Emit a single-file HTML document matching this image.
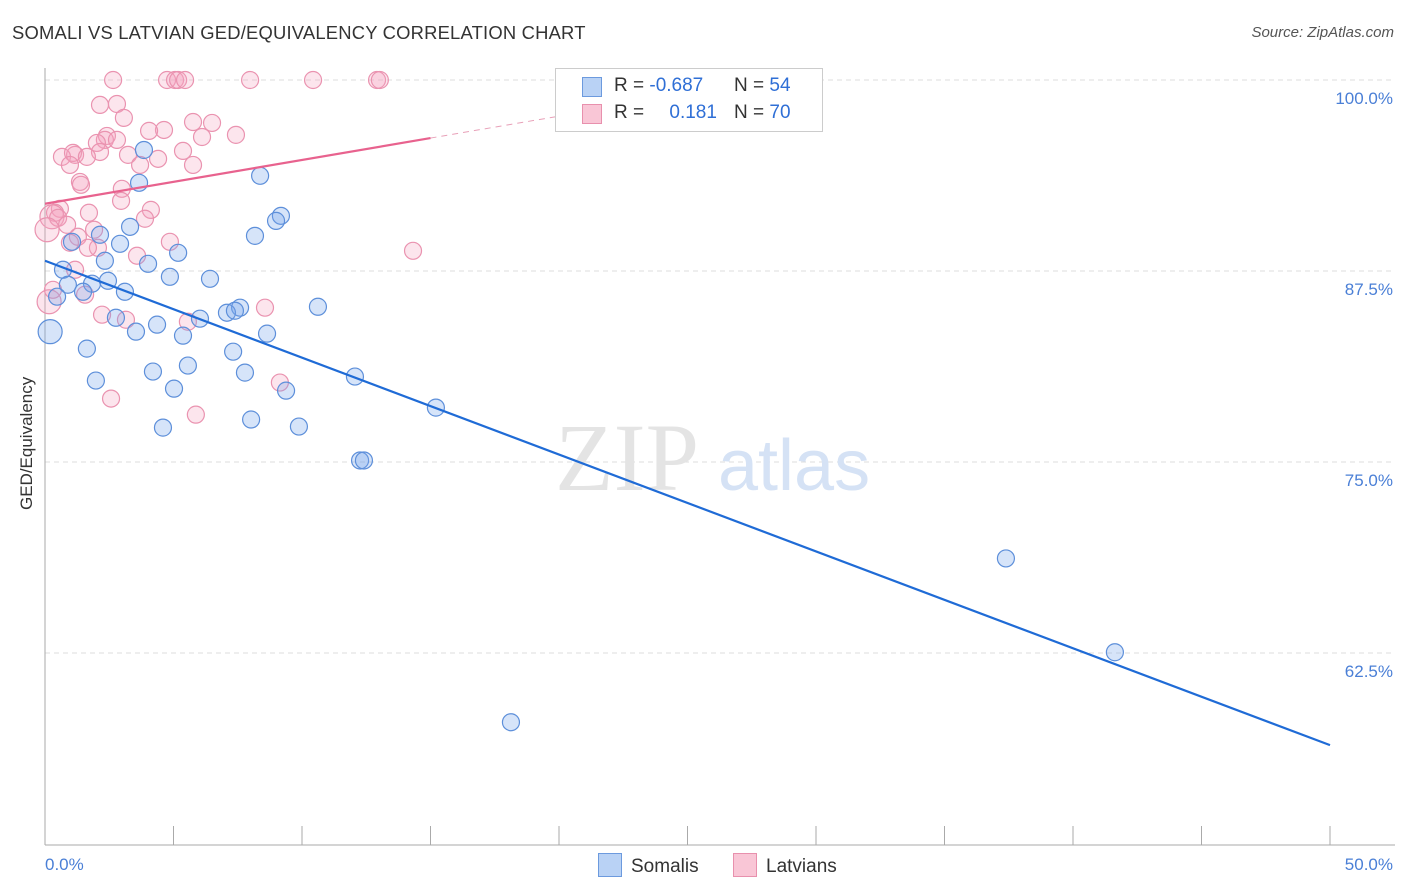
<!DOCTYPE html>
<html><head><meta charset="utf-8">
<style>
body{margin:0;background:#fff;font-family:"Liberation Sans",sans-serif;}
#wrap{position:relative;width:1406px;height:892px;overflow:hidden;}
.t{position:absolute;white-space:nowrap;}
</style></head>
<body>
<div id="wrap">
<div class="t" style="left:12px;top:22px;font-size:18.4px;color:#333;letter-spacing:0.2px">SOMALI VS LATVIAN GED/EQUIVALENCY CORRELATION CHART</div>
<div class="t" style="right:12px;top:24px;font-size:15px;color:#555;font-style:italic">Source: ZipAtlas.com</div>
<div class="t" style="left:-28px;top:445px;font-size:17px;color:#333;transform:rotate(-90deg);transform-origin:center;width:110px;text-align:center">GED/Equivalency</div>
<svg id="svg" width="1406" height="892" style="position:absolute;left:0;top:0"></svg>
</div>
<script>
const xTicks=[0,5,10,15,20,25,30,35,40,45,50];
const yTicks=[100,87.5,75,62.5];
const somaliX=[3.85,3.66,8.37,9.18,8.99,3.31,8.17,2.14,1.05,2.92,5.18,2.33,4.01,0.70,4.86,6.42,0.89,2.45,1.83,3.11,1.48,0.47,10.62,7.59,7.08,7.39,6.03,2.76,4.36,3.54,5.37,8.64,0.2,1.63,7.32,5.56,4.20,7.78,12.06,1.98,5.02,9.38,15.21,8.02,9.88,4.59,12.26,12.41,37.39,41.63,18.13];
const somaliY=[95.42,93.27,93.73,91.11,90.78,90.39,89.80,89.87,89.41,89.28,88.69,88.17,87.97,87.58,87.12,86.99,86.60,86.86,86.67,86.14,86.14,85.82,85.16,85.10,84.77,84.90,84.38,84.44,83.99,83.53,83.27,83.40,83.53,82.42,82.22,81.31,80.92,80.85,80.59,80.33,79.80,79.67,78.56,77.78,77.32,77.25,75.10,75.10,68.69,62.55,57.97];
const latvianX=[2.65,4.75,5.06,5.18,5.45,7.98,10.43,12.92,13.03,2.14,2.80,3.07,4.63,5.76,6.50,7.43,6.11,4.05,2.41,2.33,2.02,2.14,1.17,0.66,1.09,1.63,0.97,3.23,4.40,3.70,5.37,5.76,2.80,1.36,1.40,2.99,2.96,4.12,3.89,1.71,0.58,0.39,0.27,0.51,0.86,0.08,1.91,1.28,0.97,2.06,1.67,3.58,4.86,14.32,1.17,1.56,0.16,2.22,3.15,5.56,8.56,9.14,2.57,5.87,0.31];
const latvianY=[100,100,100,100,100,100,100,100,100,98.37,98.43,97.52,96.73,97.25,97.19,96.41,96.27,96.67,96.34,96.08,95.88,95.29,95.10,94.97,95.23,94.97,94.44,95.10,94.84,94.44,95.36,94.44,96.08,93.33,93.14,92.88,92.09,91.50,90.92,91.31,91.57,91.31,91.05,90.98,90.52,90.20,90.20,89.74,89.35,89.02,89.02,88.50,89.41,88.82,87.58,85.95,85.49,84.64,84.31,84.18,85.10,80.20,79.15,78.10,86.27];
const blueTrend=[[0,88.17],[50,56.47]];
const pinkTrend=[[0,91.9],[15,96.2]];
const X0=45,X1=1330,Y100=80,PXPER=15.28;
const sx=v=>X0+(v/50)*(X1-X0);
const sy=v=>Y100+(100-v)*PXPER;
const svg=document.getElementById('svg');const NS='http://www.w3.org/2000/svg';
function mk(tag,attrs){const e=document.createElementNS(NS,tag);for(const k in attrs)e.setAttribute(k,attrs[k]);svg.appendChild(e);return e;}
yTicks.forEach(v=>{const l=mk('line',{x1:X0,x2:1395,y1:sy(v),y2:sy(v),stroke:'#ddd','stroke-dasharray':'5,4'});


const t=mk('text',{x:1393,y:sy(v)+24,'text-anchor':'end','font-size':17,fill:'#4a7fd6','font-family':'Liberation Sans'});t.textContent=v.toFixed(1)+'%';

});
let a=mk('line',{x1:X0,x2:X0,y1:68,y2:845,stroke:'#aaa'});


a=mk('line',{x1:X0,x2:1395,y1:845,y2:845,stroke:'#aaa'});


xTicks.forEach(v=>{const l=mk('line',{x1:sx(v),x2:sx(v),y1:826,y2:845,stroke:'#aaa'});

});
[[0,'start',45],[50,'end',1393]].forEach(([v,anc,x])=>{const t=mk('text',{x:x,y:870,'text-anchor':anc,'font-size':17,fill:'#4a7fd6','font-family':'Liberation Sans'});t.textContent=v.toFixed(1)+'%';

});
let w=mk('text',{x:555,y:490,'font-size':96,fill:'#e4e4e4','font-family':'Liberation Serif'});w.textContent='ZIP';


w=mk('text',{x:718,y:490,'font-size':72,fill:'#d5e2f5','font-family':'Liberation Sans'});w.textContent='atlas';


function pts(xs,ys,fill,stroke,name){xs.forEach((x,i)=>{const c=mk('circle',{cx:sx(x),cy:sy(ys[i]),r:(x<0.3?12:8.5),fill:fill,stroke:stroke,'stroke-width':1.2});

});}
pts(latvianX,latvianY,'rgba(244,160,190,0.28)','#ea93b0','latvian-point');
pts(somaliX,somaliY,'rgba(120,165,235,0.3)','#5d8fda','somali-point');
let l=mk('line',{x1:sx(blueTrend[0][0]),y1:sy(blueTrend[0][1]),x2:sx(blueTrend[1][0]),y2:sy(blueTrend[1][1]),stroke:'#1f6bd6','stroke-width':2.2});


const ps=(pinkTrend[1][1]-pinkTrend[0][1])/(pinkTrend[1][0]-pinkTrend[0][0]);
l=mk('line',{x1:sx(pinkTrend[0][0]),y1:sy(pinkTrend[0][1]),x2:sx(pinkTrend[1][0]),y2:sy(pinkTrend[1][1]),stroke:'#e8628e','stroke-width':2.2});


l=mk('line',{x1:sx(15),y1:sy(pinkTrend[1][1]),x2:sx(21),y2:sy(pinkTrend[1][1]+ps*6),stroke:'#e8a0b8','stroke-width':1,'stroke-dasharray':'6,5'});


</script>
<div class="t" style="left:555px;top:68px;width:266px;height:62px;border:1px solid #ccc;background:#fff;font-size:19px;color:#333">
<div style="position:absolute;left:26px;top:8px;width:18px;height:18px;background:#b9d2f5;border:1px solid #6c9ade"></div>
<div style="position:absolute;left:58px;top:6px">R = <span style="color:#2f6fd6">-0.687</span></div>
<div style="position:absolute;left:178px;top:6px">N = <span style="color:#2f6fd6">54</span></div>
<div style="position:absolute;left:26px;top:35px;width:18px;height:18px;background:#f9c6d6;border:1px solid #e890ad"></div>
<div style="position:absolute;left:58px;top:33px">R = <span style="color:#2f6fd6;margin-left:20px">0.181</span></div>
<div style="position:absolute;left:178px;top:33px">N = <span style="color:#2f6fd6">70</span></div>
</div>
<div class="t" style="left:598px;top:853px;font-size:19px;color:#333"><span style="display:inline-block;width:22px;height:22px;background:#b9d2f5;border:1px solid #6c9ade;vertical-align:-5px;margin-right:9px"></span>Somalis</div>
<div class="t" style="left:733px;top:853px;font-size:19px;color:#333"><span style="display:inline-block;width:22px;height:22px;background:#f9c6d6;border:1px solid #e890ad;vertical-align:-5px;margin-right:9px"></span>Latvians</div>
</body></html>
